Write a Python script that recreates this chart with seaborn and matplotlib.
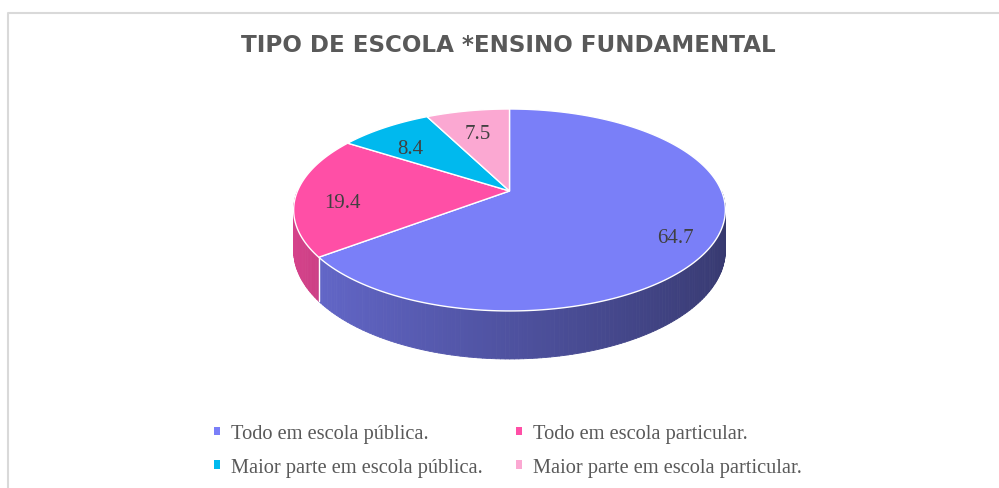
import numpy as np
import matplotlib
matplotlib.use("Agg")
import matplotlib.pyplot as plt
import matplotlib.transforms as mtransforms
from matplotlib.path import Path
from matplotlib.collections import PolyCollection
from matplotlib.lines import Line2D
from matplotlib.colors import to_rgb
import seaborn as sns

sns.set_theme(style="white")
plt.rcParams["font.family"] = ["Liberation Serif", "DejaVu Serif"]

# dados
categorias = ["Todo em escola pública.", "Todo em escola particular.",
              "Maior parte em escola pública.", "Maior parte em escola particular."]
percentuais = [64.7, 19.4, 8.4, 7.5]
cores = ["#7a7ff8", "#ff4fa6", "#00b9ee", "#fba8d2"]
titulo = "TIPO DE ESCOLA *ENSINO FUNDAMENTAL"


class Inclinacao(mtransforms.Transform):
    """pie plane seen in perspective: unit pie coords -> pixel coords"""
    input_dims = output_dims = 2

    def __init__(self, cx, cy, sx, sy, k):
        super().__init__()
        self.cx, self.cy, self.sx, self.sy, self.k = cx, cy, sx, sy, k

    def transform_non_affine(self, xy):
        xy = np.asarray(xy, float).reshape(-1, 2)
        w = 1 + self.k * xy[:, 1]
        return np.column_stack([self.cx + self.sx * xy[:, 0] / w,
                                self.cy + self.sy * xy[:, 1] / w])

    def transform_path_non_affine(self, path):
        # arcs are bezier curves, sample them before projecting
        pts = []
        for seg, code in path.iter_bezier():
            if code == Path.MOVETO:
                pts.append(seg.control_points[-1:])
            else:
                pts.append(seg(np.linspace(0, 1, 30))[1:])
        pts = np.vstack(pts + [pts[0]])
        return Path(self.transform_non_affine(pts), closed=True)


fig = plt.figure(figsize=(9.99, 4.89), dpi=100)
ax = fig.add_axes([0, 0, 1, 1])

wedges, _, pct = ax.pie(percentuais, colors=cores, startangle=90, counterclock=False,
                        autopct=lambda p: f"{p:.1f}", pctdistance=0.8,
                        wedgeprops=dict(edgecolor="white", linewidth=1))

ax.set_aspect("auto")
ax.set_xlim(0, 999)
ax.set_ylim(0, 489)
ax.axis("off")

tilt = Inclinacao(cx=509.5, cy=489 - 192, sx=212, sy=97.4, k=0.188)
profundidade = 39

for w in wedges:
    w.set_transform(tilt + ax.transData)
    w.set_zorder(3)

# lateral da pizza (so a parte da frente aparece)
polys, faces = [], []
bordas = []
for w, cor in zip(wedges, cores):
    base = np.array(to_rgb(cor))
    for lo in (-540, -180, 180):
        s0, s1 = max(w.theta1, lo), min(w.theta2, lo + 180)
        if s1 <= s0:
            continue
        ang = np.radians(np.linspace(s0, s1, int(s1 - s0) + 2))
        topo = tilt.transform(np.column_stack([np.cos(ang), np.sin(ang)]))
        queda = profundidade / (1 + tilt.k * np.sin(ang))
        fundo = topo - np.column_stack([np.zeros_like(queda), queda])
        for i in range(len(ang) - 1):
            polys.append([topo[i], topo[i + 1], fundo[i + 1], fundo[i]])
            f = 0.645 - 0.2 * np.cos((ang[i] + ang[i + 1]) / 2)
            faces.append(np.clip(base * f, 0, 1))
        if s0 == w.theta1 and s0 > lo:
            bordas.append((topo[0], fundo[0]))

ax.add_collection(PolyCollection(polys, facecolors=faces, edgecolors=faces,
                                 linewidths=0.6, zorder=1))
for a, b in bordas:
    ax.plot([a[0], b[0]], [a[1], b[1]], color="white", lw=1, zorder=2)

desloc = mtransforms.Affine2D().translate(3, -9)
for t in pct:
    t.set_transform(tilt + ax.transData + desloc)
    t.set_color("#404040")
    t.set_fontsize(15)
    t.set_zorder(4)

fig.text(508 / 999, 1 - 45 / 489, titulo, ha="center", va="center",
         fontsize=16.6, fontweight="bold", color="#595959", family="DejaVu Sans")

# legenda preenchida por linhas, como no original
ordem = [0, 2, 1, 3]
leg = fig.legend([wedges[i] for i in ordem], [categorias[i] for i in ordem],
                 loc="center", bbox_to_anchor=(508 / 999, 1 - 451.5 / 489),
                 ncol=2, frameon=False, fontsize=14.7, handlelength=0.27, handleheight=0.27,
                 handletextpad=0.55, columnspacing=1.65, labelspacing=0.7)
for h in leg.legend_handles:
    h.set_edgecolor("none")
    h.set_linewidth(0)
for t in leg.get_texts():
    t.set_color("#595959")

fig.add_artist(Line2D([8 / 999, 8 / 999, 1], [0, 1 - 14 / 489, 1 - 14 / 489],
                      transform=fig.transFigure, color="#d9d9d9", lw=1.5))

fig.savefig("out.png", dpi=100, facecolor="white")
